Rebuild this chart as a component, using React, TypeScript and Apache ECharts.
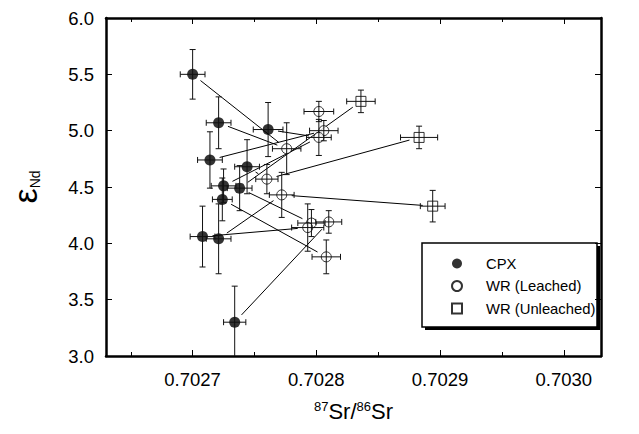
import React, { useEffect, useRef } from "react";
import * as echarts from "echarts";

// CPX (filled circles)
const cpxSr = [0.7027, 0.702721, 0.702761, 0.702714, 0.702744, 0.702725, 0.702738, 0.702724, 0.702708, 0.702721, 0.702734];
const cpxNd = [5.5, 5.07, 5.01, 4.74, 4.68, 4.51, 4.49, 4.39, 4.06, 4.04, 3.3];
const cpxSrErr = [0.00001, 0.00001, 0.000012, 0.00001, 0.00001, 0.00001, 0.00001, 0.000008, 0.00001, 0.00001, 0.000009];
const cpxNdErr = [0.22, 0.23, 0.24, 0.25, 0.24, 0.15, 0.2, 0.19, 0.27, 0.31, 0.32];

// WR leached (open circles)
const leSr = [0.702802, 0.702806, 0.702802, 0.702776, 0.70276, 0.702772, 0.702796, 0.702793, 0.70281, 0.702808];
const leNd = [5.17, 5.0, 4.94, 4.84, 4.57, 4.43, 4.18, 4.14, 4.19, 3.88];
const leSrErr = [0.000012, 0.0000115, 0.00001, 0.0000115, 0.000009, 0.00001, 0.000011, 0.000013, 0.0000105, 0.0000115];
const leNdErr = [0.09, 0.09, 0.16, 0.23, 0.13, 0.2, 0.12, 0.21, 0.1, 0.15];

// WR unleached (open squares)
const unSr = [0.702836, 0.702883, 0.702894];
const unNd = [5.26, 4.94, 4.33];
const unSrErr = [0.0000115, 0.000015, 0.00001];
const unNdErr = [0.1, 0.1, 0.14];

// tie lines: [group, index, group, index]
const links: [string, number, string, number][] = [
  ["C", 0, "L", 3],
  ["C", 1, "L", 3],
  ["C", 2, "L", 2],
  ["C", 3, "L", 1],
  ["C", 4, "L", 4],
  ["C", 5, "L", 2],
  ["C", 6, "L", 6],
  ["C", 7, "L", 9],
  ["C", 8, "L", 7],
  ["C", 9, "L", 5],
  ["C", 10, "L", 8],
  ["U", 0, "C", 6],
  ["U", 1, "L", 4],
  ["U", 2, "L", 5],
];

const legendNames = ["CPX", "WR (Leached)", "WR (Unleached)"];
const xMin = 0.70263;
const xMax = 0.70303;
const yMin = 3.0;
const yMax = 6.0;
const yStep = 0.5;

const FONT = "Liberation Sans, Arial, Helvetica, sans-serif";

function pt(g: string, i: number): [number, number] {
  if (g === "C") return [cpxSr[i], cpxNd[i]];
  if (g === "L") return [leSr[i], leNd[i]];
  return [unSr[i], unNd[i]];
}

function errData(sr: number[], nd: number[], se: number[], ne: number[]) {
  return sr.map((v, i) => [v, nd[i], se[i], ne[i]]);
}

export default function App() {
  const ref = useRef<HTMLDivElement>(null);
  useEffect(() => {
    if (!ref.current) return;
    const chart = echarts.init(ref.current, null, { renderer: "svg" });

    const errRender = (params: any, api: any) => {
      const x = api.value(0);
      const y = api.value(1);
      const ex = api.value(2);
      const ey = api.value(3);
      const c = api.coord([x, y]);
      const l = api.coord([x - ex, y]);
      const r = api.coord([x + ex, y]);
      const t = api.coord([x, y + ey]);
      const b = api.coord([x, y - ey]);
      const cap = 3;
      const style = { stroke: "#111", lineWidth: 1 };
      return {
        type: "group",
        children: [
          { type: "line", shape: { x1: l[0], y1: c[1], x2: r[0], y2: c[1] }, style },
          { type: "line", shape: { x1: l[0], y1: c[1] - cap, x2: l[0], y2: c[1] + cap }, style },
          { type: "line", shape: { x1: r[0], y1: c[1] - cap, x2: r[0], y2: c[1] + cap }, style },
          { type: "line", shape: { x1: c[0], y1: t[1], x2: c[0], y2: b[1] }, style },
          { type: "line", shape: { x1: c[0] - cap, y1: t[1], x2: c[0] + cap, y2: t[1] }, style },
          { type: "line", shape: { x1: c[0] - cap, y1: b[1], x2: c[0] + cap, y2: b[1] }, style },
        ],
      };
    };

    const linkData = links.map(([g1, i1, g2, i2]) => {
      const a = pt(g1, i1);
      const b = pt(g2, i2);
      return [a[0], a[1], b[0], b[1]];
    });

    const linkRender = (params: any, api: any) => {
      const p1 = api.coord([api.value(0), api.value(1)]);
      const p2 = api.coord([api.value(2), api.value(3)]);
      const dx = p2[0] - p1[0];
      const dy = p2[1] - p1[1];
      const len = Math.sqrt(dx * dx + dy * dy) || 1;
      const gap = 10;
      const ux = dx / len;
      const uy = dy / len;
      return {
        type: "line",
        shape: {
          x1: p1[0] + ux * gap,
          y1: p1[1] + uy * gap,
          x2: p2[0] - ux * gap,
          y2: p2[1] - uy * gap,
        },
        style: { stroke: "#000", lineWidth: 1 },
      };
    };

    const axisLine = { show: true, lineStyle: { color: "#000", width: 2.5 } };
    const axisTick = { show: true, inside: true, length: 6, lineStyle: { color: "#000", width: 1 } };
    const minorTick = { show: true, splitNumber: 2, length: 4, lineStyle: { color: "#000", width: 1 } };

    const xFmt = (v: number) => {
      const k = v * 1e4;
      return Math.abs(k - Math.round(k)) < 1e-6 ? v.toFixed(4) : "";
    };

    const option: any = {
      animation: false,
      backgroundColor: "#fff",
      grid: { left: 104, right: 38, top: 18, bottom: 78 },
      xAxis: [
        {
          type: "value",
          position: "bottom",
          min: xMin,
          max: xMax,
          axisLine,
          axisTick,
          minorTick,
          splitLine: { show: false },
          axisLabel: { formatter: xFmt, fontSize: 18.5, color: "#000", fontFamily: FONT, margin: 14 },
          name: "{s|87}{m|Sr/}{s|86}{m|Sr}",
          nameLocation: "middle",
          nameGap: 44,
          nameTextStyle: {
            color: "#000",
            fontFamily: FONT,
            rich: {
              s: { fontSize: 13, verticalAlign: "top", fontFamily: FONT, color: "#000" },
              m: { fontSize: 22, fontFamily: FONT, color: "#000" },
            },
          },
        },
        {
          type: "value",
          position: "top",
          min: xMin,
          max: xMax,
          axisLine,
          axisTick,
          minorTick,
          splitLine: { show: false },
          axisLabel: { show: false },
        },
      ],
      yAxis: [
        {
          type: "value",
          position: "left",
          min: yMin,
          max: yMax,
          interval: yStep,
          axisLine,
          axisTick,
          splitLine: { show: false },
          axisLabel: {
            formatter: (v: number) => v.toFixed(1),
            fontSize: 18.5,
            color: "#000",
            fontFamily: FONT,
            margin: 12,
          },
          name: "{e|ε}{s|Nd}",
          nameLocation: "middle",
          nameRotate: 90,
          nameGap: 64,
          nameTextStyle: {
            color: "#000",
            fontFamily: FONT,
            rich: {
              e: { fontSize: 34, fontFamily: FONT, color: "#000" },
              s: { fontSize: 14, verticalAlign: "bottom", fontFamily: FONT, color: "#000" },
            },
          },
        },
        {
          type: "value",
          position: "right",
          min: yMin,
          max: yMax,
          interval: yStep,
          axisLine,
          axisTick,
          splitLine: { show: false },
          axisLabel: { show: false },
        },
      ],
      legend: {
        data: [
          { name: legendNames[0], icon: "circle" },
          { name: legendNames[1], icon: "circle" },
          { name: legendNames[2], icon: "path://M0,0L10,0L10,10L0,10Z" },
        ],
        orient: "vertical",
        left: 446,
        top: 251,
        padding: 5,
        itemWidth: 48,
        itemHeight: 10,
        itemGap: 7.5,
        symbolKeepAspect: true,
        selectedMode: false,
        textStyle: { fontSize: 14.8, color: "#000", fontFamily: FONT },
        z: 10,
      },
      graphic: {
        z: 8,
        elements: [
          { type: "rect", shape: { x: 425, y: 246, width: 175, height: 84 }, style: { fill: "#000" } },
          {
            type: "rect",
            shape: { x: 422, y: 243, width: 175, height: 84 },
            style: { fill: "#fff", stroke: "#000", lineWidth: 1.5 },
          },
        ],
      },
      series: [
        {
          type: "custom",
          name: "links",
          renderItem: linkRender,
          data: linkData,
          encode: { x: [0, 2], y: [1, 3] },
          z: 1,
          silent: true,
        },
        {
          type: "scatter",
          name: legendNames[0],
          symbol: "circle",
          symbolSize: 11,
          itemStyle: { color: "#000" },
          data: cpxSr.map((v, i) => [v, cpxNd[i]]),
          z: 2,
        },
        {
          type: "scatter",
          name: legendNames[1],
          symbol: "circle",
          symbolSize: 10,
          itemStyle: { color: "#fff", borderColor: "#000", borderWidth: 1 },
          data: leSr.map((v, i) => [v, leNd[i]]),
          z: 2,
        },
        {
          type: "scatter",
          name: legendNames[2],
          symbol: "rect",
          symbolSize: 10,
          itemStyle: { color: "#fff", borderColor: "#000", borderWidth: 1 },
          data: unSr.map((v, i) => [v, unNd[i]]),
          z: 2,
        },
        {
          type: "custom",
          name: "errCPX",
          renderItem: errRender,
          data: errData(cpxSr, cpxNd, cpxSrErr, cpxNdErr),
          encode: { x: 0, y: 1 },
          clip: true,
          z: 3,
          silent: true,
        },
        {
          type: "custom",
          name: "errLe",
          renderItem: errRender,
          data: errData(leSr, leNd, leSrErr, leNdErr),
          encode: { x: 0, y: 1 },
          clip: true,
          z: 3,
          silent: true,
        },
        {
          type: "custom",
          name: "errUn",
          renderItem: errRender,
          data: errData(unSr, unNd, unSrErr, unNdErr),
          encode: { x: 0, y: 1 },
          clip: true,
          z: 3,
          silent: true,
        },
      ],
    };

    chart.setOption(option);
    return () => chart.dispose();
  }, []);

  return (
    <div
      ref={ref}
      style={{ position: "fixed", left: 0, top: 0, width: 639, height: 434, background: "#fff" }}
    />
  );
}
